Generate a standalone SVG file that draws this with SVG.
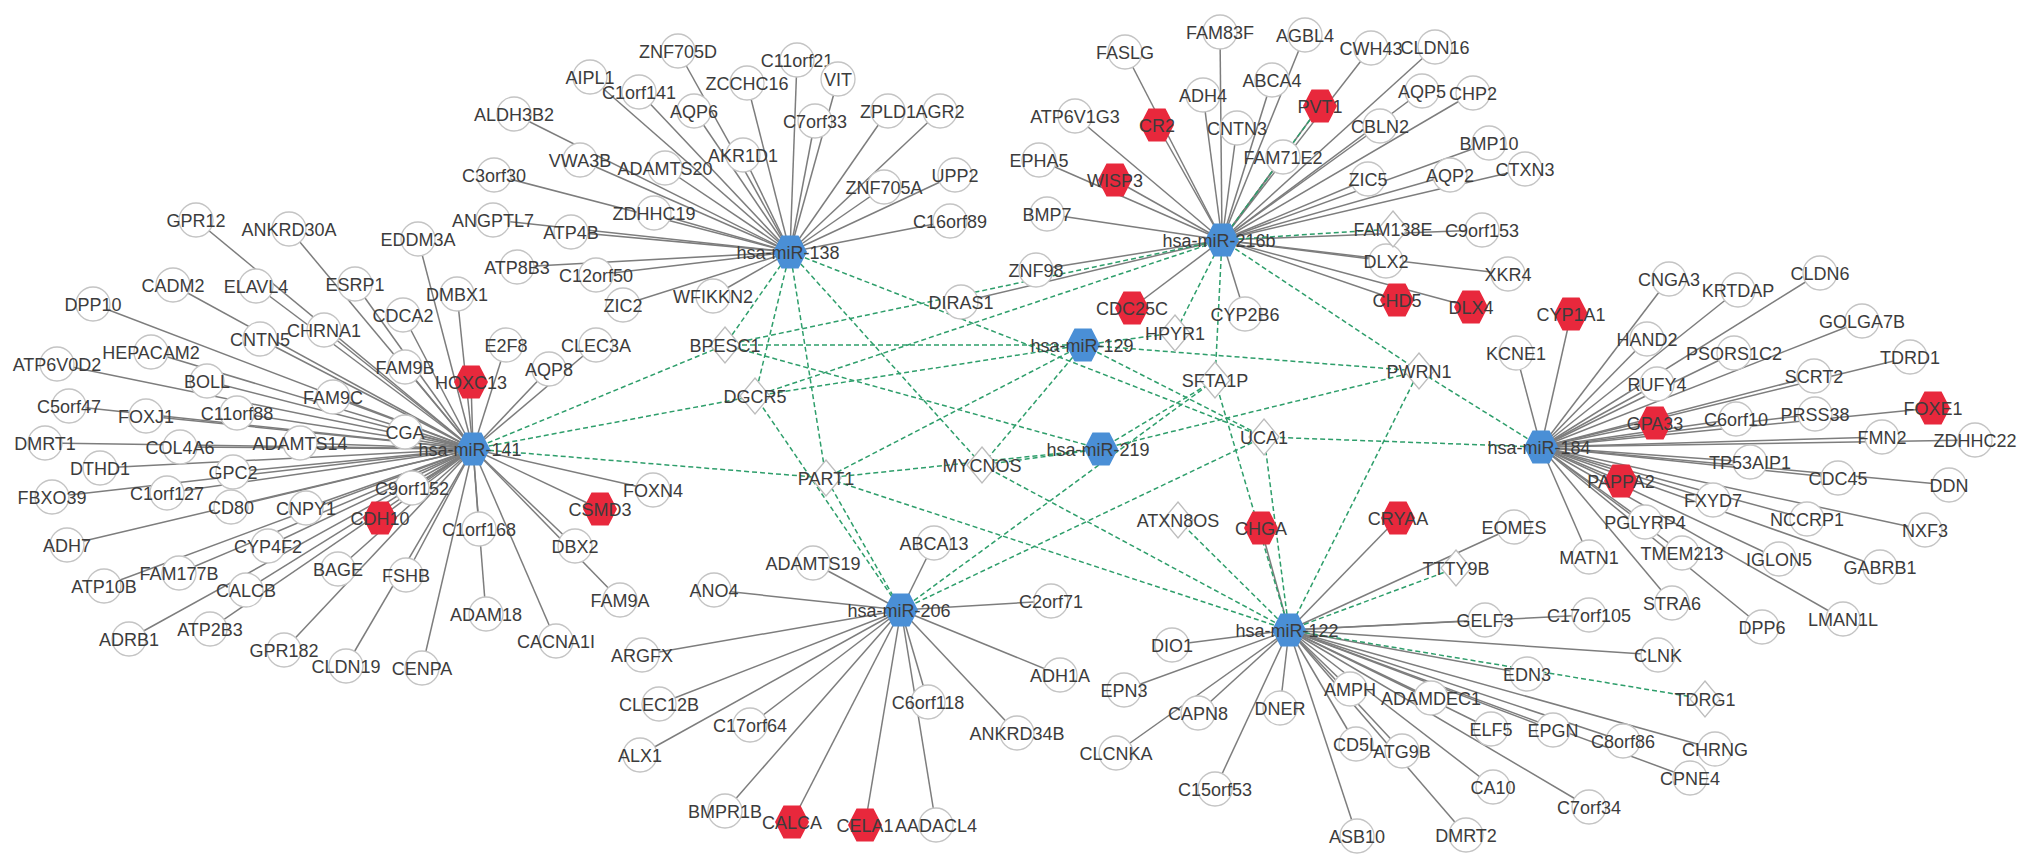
<svg xmlns="http://www.w3.org/2000/svg" xmlns:xlink="http://www.w3.org/1999/xlink" width="2031" height="868" viewBox="0 0 2031 868">
<style>
.e{stroke:#7d7d7d;stroke-width:1.5;fill:none}
.d{stroke:#2e9e6b;stroke-width:1.5;stroke-dasharray:5 3;fill:none}
.c{fill:#fff;stroke:#c4c4c4;stroke-width:1.3}
.dm{fill:#fff;stroke:#bdbdbd;stroke-width:1.3}
.r{fill:#e8283c}
.b{fill:#4a8fd6}
text{font-family:"Liberation Sans",Arial,sans-serif;font-size:18px;fill:#3c3c3c;text-anchor:middle}
</style>
<defs>
<polygon id="hx" points="-17,0 -8.5,-16.5 8.5,-16.5 17,0 8.5,16.5 -8.5,16.5"/>
<polygon id="dd" points="0,-18 15,0 0,18 -15,0"/>
</defs>
<rect width="2031" height="868" fill="#fff"/>
<g id="connectors">
<g class="e">
<path d="M790 252L514 114"/><path d="M790 252L494 175"/><path d="M790 252L493 220"/><path d="M790 252L517 267"/>
<path d="M790 252L678 51"/><path d="M790 252L590 77"/><path d="M790 252L639 92"/><path d="M790 252L747 83"/>
<path d="M790 252L797 60"/><path d="M790 252L838 79"/><path d="M790 252L694 111"/><path d="M790 252L815 121"/>
<path d="M790 252L888 111"/><path d="M790 252L940 111"/><path d="M790 252L743 155"/><path d="M790 252L580 160"/>
<path d="M790 252L665 168"/><path d="M790 252L884 187"/><path d="M790 252L955 175"/><path d="M790 252L950 221"/>
<path d="M790 252L654 213"/><path d="M790 252L571 232"/><path d="M790 252L596 275"/><path d="M790 252L713 296"/>
<path d="M790 252L623 305"/>
<path d="M473 449L196 220"/><path d="M473 449L289 229"/><path d="M473 449L418 239"/><path d="M473 449L173 285"/>
<path d="M473 449L256 286"/><path d="M473 449L355 284"/><path d="M473 449L457 294"/><path d="M473 449L93 304"/>
<path d="M473 449L403 315"/><path d="M473 449L260 339"/><path d="M473 449L324 330"/><path d="M473 449L506 345"/>
<path d="M473 449L596 345"/><path d="M473 449L549 369"/><path d="M473 449L57 364"/><path d="M473 449L151 352"/>
<path d="M473 449L405 367"/><path d="M473 449L471 382"/><path d="M473 449L207 381"/><path d="M473 449L333 397"/>
<path d="M473 449L69 406"/><path d="M473 449L146 416"/><path d="M473 449L237 413"/><path d="M473 449L405 432"/>
<path d="M473 449L45 443"/><path d="M473 449L180 447"/><path d="M473 449L300 443"/><path d="M473 449L100 468"/>
<path d="M473 449L233 472"/><path d="M473 449L412 488"/><path d="M473 449L52 497"/><path d="M473 449L167 493"/>
<path d="M473 449L231 507"/><path d="M473 449L306 508"/><path d="M473 449L380 518"/><path d="M473 449L479 529"/>
<path d="M473 449L67 545"/><path d="M473 449L268 546"/><path d="M473 449L179 573"/><path d="M473 449L338 569"/>
<path d="M473 449L406 575"/><path d="M473 449L653 490"/><path d="M473 449L600 509"/><path d="M473 449L575 546"/>
<path d="M473 449L104 586"/><path d="M473 449L246 590"/><path d="M473 449L129 639"/><path d="M473 449L210 629"/>
<path d="M473 449L284 650"/><path d="M473 449L346 666"/><path d="M473 449L422 668"/><path d="M473 449L486 614"/>
<path d="M473 449L556 641"/><path d="M473 449L620 600"/>
<path d="M1222 240L1125 52"/><path d="M1222 240L1220 32"/><path d="M1222 240L1305 35"/><path d="M1222 240L1371 48"/>
<path d="M1222 240L1435 47"/><path d="M1222 240L1203 95"/><path d="M1222 240L1272 80"/><path d="M1222 240L1320 106"/>
<path d="M1222 240L1422 91"/><path d="M1222 240L1473 93"/><path d="M1222 240L1075 116"/><path d="M1222 240L1157 125"/>
<path d="M1222 240L1237 128"/><path d="M1222 240L1380 126"/><path d="M1222 240L1283 157"/><path d="M1222 240L1489 143"/>
<path d="M1222 240L1525 169"/><path d="M1222 240L1115 180"/><path d="M1222 240L1368 179"/><path d="M1222 240L1450 175"/>
<path d="M1222 240L1482 230"/><path d="M1222 240L1386 261"/><path d="M1222 240L1508 274"/><path d="M1222 240L1039 160"/>
<path d="M1222 240L1047 214"/><path d="M1222 240L1036 270"/><path d="M1222 240L961 302"/><path d="M1222 240L1397 300"/>
<path d="M1222 240L1471 307"/><path d="M1222 240L1245 314"/><path d="M1222 240L1132 308"/>
<path d="M1541 447L1669 279"/><path d="M1541 447L1738 290"/><path d="M1541 447L1820 273"/><path d="M1541 447L1571 314"/>
<path d="M1541 447L1647 339"/><path d="M1541 447L1862 321"/><path d="M1541 447L1734 353"/><path d="M1541 447L1910 357"/>
<path d="M1541 447L1657 384"/><path d="M1541 447L1814 376"/><path d="M1541 447L1933 408"/><path d="M1541 447L1655 423"/>
<path d="M1541 447L1736 419"/><path d="M1541 447L1815 414"/><path d="M1541 447L1882 437"/><path d="M1541 447L1975 440"/>
<path d="M1541 447L1750 462"/><path d="M1541 447L1838 478"/><path d="M1541 447L1949 485"/><path d="M1541 447L1621 481"/>
<path d="M1541 447L1713 500"/><path d="M1541 447L1807 519"/><path d="M1541 447L1925 530"/><path d="M1541 447L1645 522"/>
<path d="M1541 447L1589 557"/><path d="M1541 447L1682 553"/><path d="M1541 447L1779 559"/><path d="M1541 447L1880 567"/>
<path d="M1541 447L1516 353"/><path d="M1541 447L1672 603"/><path d="M1541 447L1762 627"/><path d="M1541 447L1843 619"/>
<path d="M901 610L714 590"/><path d="M901 610L813 563"/><path d="M901 610L934 543"/><path d="M901 610L1051 601"/>
<path d="M901 610L1060 675"/><path d="M901 610L1017 733"/><path d="M901 610L928 702"/><path d="M901 610L936 825"/>
<path d="M901 610L865 825"/><path d="M901 610L792 822"/><path d="M901 610L725 811"/><path d="M901 610L750 725"/>
<path d="M901 610L640 755"/><path d="M901 610L659 704"/><path d="M901 610L642 655"/>
<path d="M1289 630L1398 518"/><path d="M1289 630L1261 528"/><path d="M1289 630L1514 527"/><path d="M1289 630L1485 620"/>
<path d="M1289 630L1589 615"/><path d="M1289 630L1658 655"/><path d="M1289 630L1527 674"/><path d="M1289 630L1715 749"/>
<path d="M1289 630L1623 741"/><path d="M1289 630L1690 778"/><path d="M1289 630L1553 730"/><path d="M1289 630L1589 807"/>
<path d="M1289 630L1491 729"/><path d="M1289 630L1493 787"/><path d="M1289 630L1431 698"/><path d="M1289 630L1350 689"/>
<path d="M1289 630L1402 751"/><path d="M1289 630L1356 744"/><path d="M1289 630L1466 835"/><path d="M1289 630L1357 836"/>
<path d="M1289 630L1215 789"/><path d="M1289 630L1280 708"/><path d="M1289 630L1198 713"/><path d="M1289 630L1116 753"/>
<path d="M1289 630L1124 690"/><path d="M1289 630L1172 645"/>
</g>
<g class="d">
<path d="M473 449L725 345"/><path d="M473 449L755 396"/><path d="M473 449L826 478"/>
<path d="M790 252L725 345"/><path d="M790 252L755 396"/><path d="M790 252L826 478"/><path d="M790 252L982 465"/><path d="M790 252L1264 437"/>
<path d="M1222 240L725 345"/><path d="M1222 240L755 396"/><path d="M1222 240L1175 333"/><path d="M1222 240L1215 380"/><path d="M1222 240L1419 371"/><path d="M1222 240L1393 229"/><path d="M1222 240L1320 106"/>
<path d="M1083 345L725 345"/><path d="M1083 345L755 396"/><path d="M1083 345L826 478"/><path d="M1083 345L1175 333"/><path d="M1083 345L1419 371"/><path d="M1083 345L1264 437"/><path d="M1083 345L982 465"/>
<path d="M1101 449L725 345"/><path d="M1101 449L982 465"/><path d="M1101 449L1215 380"/><path d="M1101 449L1419 371"/><path d="M1101 449L826 478"/>
<path d="M1541 447L1264 437"/><path d="M1541 447L1419 371"/>
<path d="M901 610L826 478"/><path d="M901 610L755 396"/><path d="M901 610L1215 380"/><path d="M901 610L1264 437"/>
<path d="M1289 630L826 478"/><path d="M1289 630L982 465"/><path d="M1289 630L1215 380"/><path d="M1289 630L1264 437"/><path d="M1289 630L1178 520"/><path d="M1289 630L1419 371"/><path d="M1289 630L1456 568"/><path d="M1289 630L1705 699"/>
</g>
</g>
<g id="nodes">
<g id="n-ALDH3B2"><circle class="c" cx="514" cy="114" r="17"/><text x="514" y="120.5">ALDH3B2</text></g>
<g id="n-C3orf30"><circle class="c" cx="494" cy="175" r="17"/><text x="494" y="181.5">C3orf30</text></g>
<g id="n-ANGPTL7"><circle class="c" cx="493" cy="220" r="17"/><text x="493" y="226.5">ANGPTL7</text></g>
<g id="n-ATP8B3"><circle class="c" cx="517" cy="267" r="17"/><text x="517" y="273.5">ATP8B3</text></g>
<g id="n-ZNF705D"><circle class="c" cx="678" cy="51" r="17"/><text x="678" y="57.5">ZNF705D</text></g>
<g id="n-AIPL1"><circle class="c" cx="590" cy="77" r="17"/><text x="590" y="83.5">AIPL1</text></g>
<g id="n-C1orf141"><circle class="c" cx="639" cy="92" r="17"/><text x="639" y="98.5">C1orf141</text></g>
<g id="n-ZCCHC16"><circle class="c" cx="747" cy="83" r="17"/><text x="747" y="89.5">ZCCHC16</text></g>
<g id="n-C11orf21"><circle class="c" cx="797" cy="60" r="17"/><text x="797" y="66.5">C11orf21</text></g>
<g id="n-VIT"><circle class="c" cx="838" cy="79" r="17"/><text x="838" y="85.5">VIT</text></g>
<g id="n-AQP6"><circle class="c" cx="694" cy="111" r="17"/><text x="694" y="117.5">AQP6</text></g>
<g id="n-C7orf33"><circle class="c" cx="815" cy="121" r="17"/><text x="815" y="127.5">C7orf33</text></g>
<g id="n-ZPLD1"><circle class="c" cx="888" cy="111" r="17"/><text x="888" y="117.5">ZPLD1</text></g>
<g id="n-AGR2"><circle class="c" cx="940" cy="111" r="17"/><text x="940" y="117.5">AGR2</text></g>
<g id="n-AKR1D1"><circle class="c" cx="743" cy="155" r="17"/><text x="743" y="161.5">AKR1D1</text></g>
<g id="n-VWA3B"><circle class="c" cx="580" cy="160" r="17"/><text x="580" y="166.5">VWA3B</text></g>
<g id="n-ADAMTS20"><circle class="c" cx="665" cy="168" r="17"/><text x="665" y="174.5">ADAMTS20</text></g>
<g id="n-ZNF705A"><circle class="c" cx="884" cy="187" r="17"/><text x="884" y="193.5">ZNF705A</text></g>
<g id="n-UPP2"><circle class="c" cx="955" cy="175" r="17"/><text x="955" y="181.5">UPP2</text></g>
<g id="n-C16orf89"><circle class="c" cx="950" cy="221" r="17"/><text x="950" y="227.5">C16orf89</text></g>
<g id="n-ZDHHC19"><circle class="c" cx="654" cy="213" r="17"/><text x="654" y="219.5">ZDHHC19</text></g>
<g id="n-ATP4B"><circle class="c" cx="571" cy="232" r="17"/><text x="571" y="238.5">ATP4B</text></g>
<g id="n-C12orf50"><circle class="c" cx="596" cy="275" r="17"/><text x="596" y="281.5">C12orf50</text></g>
<g id="n-WFIKKN2"><circle class="c" cx="713" cy="296" r="17"/><text x="713" y="302.5">WFIKKN2</text></g>
<g id="n-ZIC2"><circle class="c" cx="623" cy="305" r="17"/><text x="623" y="311.5">ZIC2</text></g>
<g id="n-GPR12"><circle class="c" cx="196" cy="220" r="17"/><text x="196" y="226.5">GPR12</text></g>
<g id="n-ANKRD30A"><circle class="c" cx="289" cy="229" r="17"/><text x="289" y="235.5">ANKRD30A</text></g>
<g id="n-EDDM3A"><circle class="c" cx="418" cy="239" r="17"/><text x="418" y="245.5">EDDM3A</text></g>
<g id="n-CADM2"><circle class="c" cx="173" cy="285" r="17"/><text x="173" y="291.5">CADM2</text></g>
<g id="n-ELAVL4"><circle class="c" cx="256" cy="286" r="17"/><text x="256" y="292.5">ELAVL4</text></g>
<g id="n-ESRP1"><circle class="c" cx="355" cy="284" r="17"/><text x="355" y="290.5">ESRP1</text></g>
<g id="n-DMBX1"><circle class="c" cx="457" cy="294" r="17"/><text x="457" y="300.5">DMBX1</text></g>
<g id="n-DPP10"><circle class="c" cx="93" cy="304" r="17"/><text x="93" y="310.5">DPP10</text></g>
<g id="n-CDCA2"><circle class="c" cx="403" cy="315" r="17"/><text x="403" y="321.5">CDCA2</text></g>
<g id="n-CNTN5"><circle class="c" cx="260" cy="339" r="17"/><text x="260" y="345.5">CNTN5</text></g>
<g id="n-CHRNA1"><circle class="c" cx="324" cy="330" r="17"/><text x="324" y="336.5">CHRNA1</text></g>
<g id="n-E2F8"><circle class="c" cx="506" cy="345" r="17"/><text x="506" y="351.5">E2F8</text></g>
<g id="n-CLEC3A"><circle class="c" cx="596" cy="345" r="17"/><text x="596" y="351.5">CLEC3A</text></g>
<g id="n-AQP8"><circle class="c" cx="549" cy="369" r="17"/><text x="549" y="375.5">AQP8</text></g>
<g id="n-ATP6V0D2"><circle class="c" cx="57" cy="364" r="17"/><text x="57" y="370.5">ATP6V0D2</text></g>
<g id="n-HEPACAM2"><circle class="c" cx="151" cy="352" r="17"/><text x="151" y="358.5">HEPACAM2</text></g>
<g id="n-FAM9B"><circle class="c" cx="405" cy="367" r="17"/><text x="405" y="373.5">FAM9B</text></g>
<g id="n-BOLL"><circle class="c" cx="207" cy="381" r="17"/><text x="207" y="387.5">BOLL</text></g>
<g id="n-FAM9C"><circle class="c" cx="333" cy="397" r="17"/><text x="333" y="403.5">FAM9C</text></g>
<g id="n-C5orf47"><circle class="c" cx="69" cy="406" r="17"/><text x="69" y="412.5">C5orf47</text></g>
<g id="n-FOXJ1"><circle class="c" cx="146" cy="416" r="17"/><text x="146" y="422.5">FOXJ1</text></g>
<g id="n-C11orf88"><circle class="c" cx="237" cy="413" r="17"/><text x="237" y="419.5">C11orf88</text></g>
<g id="n-CGA"><circle class="c" cx="405" cy="432" r="17"/><text x="405" y="438.5">CGA</text></g>
<g id="n-DMRT1"><circle class="c" cx="45" cy="443" r="17"/><text x="45" y="449.5">DMRT1</text></g>
<g id="n-COL4A6"><circle class="c" cx="180" cy="447" r="17"/><text x="180" y="453.5">COL4A6</text></g>
<g id="n-ADAMTS14"><circle class="c" cx="300" cy="443" r="17"/><text x="300" y="449.5">ADAMTS14</text></g>
<g id="n-DTHD1"><circle class="c" cx="100" cy="468" r="17"/><text x="100" y="474.5">DTHD1</text></g>
<g id="n-GPC2"><circle class="c" cx="233" cy="472" r="17"/><text x="233" y="478.5">GPC2</text></g>
<g id="n-C9orf152"><circle class="c" cx="412" cy="488" r="17"/><text x="412" y="494.5">C9orf152</text></g>
<g id="n-FBXO39"><circle class="c" cx="52" cy="497" r="17"/><text x="52" y="503.5">FBXO39</text></g>
<g id="n-C1orf127"><circle class="c" cx="167" cy="493" r="17"/><text x="167" y="499.5">C1orf127</text></g>
<g id="n-CD80"><circle class="c" cx="231" cy="507" r="17"/><text x="231" y="513.5">CD80</text></g>
<g id="n-CNPY1"><circle class="c" cx="306" cy="508" r="17"/><text x="306" y="514.5">CNPY1</text></g>
<g id="n-C1orf168"><circle class="c" cx="479" cy="529" r="17"/><text x="479" y="535.5">C1orf168</text></g>
<g id="n-ADH7"><circle class="c" cx="67" cy="545" r="17"/><text x="67" y="551.5">ADH7</text></g>
<g id="n-CYP4F2"><circle class="c" cx="268" cy="546" r="17"/><text x="268" y="552.5">CYP4F2</text></g>
<g id="n-FAM177B"><circle class="c" cx="179" cy="573" r="17"/><text x="179" y="579.5">FAM177B</text></g>
<g id="n-BAGE"><circle class="c" cx="338" cy="569" r="17"/><text x="338" y="575.5">BAGE</text></g>
<g id="n-FSHB"><circle class="c" cx="406" cy="575" r="17"/><text x="406" y="581.5">FSHB</text></g>
<g id="n-FOXN4"><circle class="c" cx="653" cy="490" r="17"/><text x="653" y="496.5">FOXN4</text></g>
<g id="n-DBX2"><circle class="c" cx="575" cy="546" r="17"/><text x="575" y="552.5">DBX2</text></g>
<g id="n-ATP10B"><circle class="c" cx="104" cy="586" r="17"/><text x="104" y="592.5">ATP10B</text></g>
<g id="n-CALCB"><circle class="c" cx="246" cy="590" r="17"/><text x="246" y="596.5">CALCB</text></g>
<g id="n-ADRB1"><circle class="c" cx="129" cy="639" r="17"/><text x="129" y="645.5">ADRB1</text></g>
<g id="n-ATP2B3"><circle class="c" cx="210" cy="629" r="17"/><text x="210" y="635.5">ATP2B3</text></g>
<g id="n-GPR182"><circle class="c" cx="284" cy="650" r="17"/><text x="284" y="656.5">GPR182</text></g>
<g id="n-CLDN19"><circle class="c" cx="346" cy="666" r="17"/><text x="346" y="672.5">CLDN19</text></g>
<g id="n-CENPA"><circle class="c" cx="422" cy="668" r="17"/><text x="422" y="674.5">CENPA</text></g>
<g id="n-ADAM18"><circle class="c" cx="486" cy="614" r="17"/><text x="486" y="620.5">ADAM18</text></g>
<g id="n-CACNA1I"><circle class="c" cx="556" cy="641" r="17"/><text x="556" y="647.5">CACNA1I</text></g>
<g id="n-FAM9A"><circle class="c" cx="620" cy="600" r="17"/><text x="620" y="606.5">FAM9A</text></g>
<g id="n-FASLG"><circle class="c" cx="1125" cy="52" r="17"/><text x="1125" y="58.5">FASLG</text></g>
<g id="n-FAM83F"><circle class="c" cx="1220" cy="32" r="17"/><text x="1220" y="38.5">FAM83F</text></g>
<g id="n-AGBL4"><circle class="c" cx="1305" cy="35" r="17"/><text x="1305" y="41.5">AGBL4</text></g>
<g id="n-CWH43"><circle class="c" cx="1371" cy="48" r="17"/><text x="1371" y="54.5">CWH43</text></g>
<g id="n-CLDN16"><circle class="c" cx="1435" cy="47" r="17"/><text x="1435" y="53.5">CLDN16</text></g>
<g id="n-ADH4"><circle class="c" cx="1203" cy="95" r="17"/><text x="1203" y="101.5">ADH4</text></g>
<g id="n-ABCA4"><circle class="c" cx="1272" cy="80" r="17"/><text x="1272" y="86.5">ABCA4</text></g>
<g id="n-AQP5"><circle class="c" cx="1422" cy="91" r="17"/><text x="1422" y="97.5">AQP5</text></g>
<g id="n-CHP2"><circle class="c" cx="1473" cy="93" r="17"/><text x="1473" y="99.5">CHP2</text></g>
<g id="n-ATP6V1G3"><circle class="c" cx="1075" cy="116" r="17"/><text x="1075" y="122.5">ATP6V1G3</text></g>
<g id="n-CNTN3"><circle class="c" cx="1237" cy="128" r="17"/><text x="1237" y="134.5">CNTN3</text></g>
<g id="n-CBLN2"><circle class="c" cx="1380" cy="126" r="17"/><text x="1380" y="132.5">CBLN2</text></g>
<g id="n-FAM71E2"><circle class="c" cx="1283" cy="157" r="17"/><text x="1283" y="163.5">FAM71E2</text></g>
<g id="n-BMP10"><circle class="c" cx="1489" cy="143" r="17"/><text x="1489" y="149.5">BMP10</text></g>
<g id="n-CTXN3"><circle class="c" cx="1525" cy="169" r="17"/><text x="1525" y="175.5">CTXN3</text></g>
<g id="n-ZIC5"><circle class="c" cx="1368" cy="179" r="17"/><text x="1368" y="185.5">ZIC5</text></g>
<g id="n-AQP2"><circle class="c" cx="1450" cy="175" r="17"/><text x="1450" y="181.5">AQP2</text></g>
<g id="n-C9orf153"><circle class="c" cx="1482" cy="230" r="17"/><text x="1482" y="236.5">C9orf153</text></g>
<g id="n-DLX2"><circle class="c" cx="1386" cy="261" r="17"/><text x="1386" y="267.5">DLX2</text></g>
<g id="n-XKR4"><circle class="c" cx="1508" cy="274" r="17"/><text x="1508" y="280.5">XKR4</text></g>
<g id="n-EPHA5"><circle class="c" cx="1039" cy="160" r="17"/><text x="1039" y="166.5">EPHA5</text></g>
<g id="n-BMP7"><circle class="c" cx="1047" cy="214" r="17"/><text x="1047" y="220.5">BMP7</text></g>
<g id="n-ZNF98"><circle class="c" cx="1036" cy="270" r="17"/><text x="1036" y="276.5">ZNF98</text></g>
<g id="n-DIRAS1"><circle class="c" cx="961" cy="302" r="17"/><text x="961" y="308.5">DIRAS1</text></g>
<g id="n-CYP2B6"><circle class="c" cx="1245" cy="314" r="17"/><text x="1245" y="320.5">CYP2B6</text></g>
<g id="n-CNGA3"><circle class="c" cx="1669" cy="279" r="17"/><text x="1669" y="285.5">CNGA3</text></g>
<g id="n-KRTDAP"><circle class="c" cx="1738" cy="290" r="17"/><text x="1738" y="296.5">KRTDAP</text></g>
<g id="n-CLDN6"><circle class="c" cx="1820" cy="273" r="17"/><text x="1820" y="279.5">CLDN6</text></g>
<g id="n-HAND2"><circle class="c" cx="1647" cy="339" r="17"/><text x="1647" y="345.5">HAND2</text></g>
<g id="n-GOLGA7B"><circle class="c" cx="1862" cy="321" r="17"/><text x="1862" y="327.5">GOLGA7B</text></g>
<g id="n-PSORS1C2"><circle class="c" cx="1734" cy="353" r="17"/><text x="1734" y="359.5">PSORS1C2</text></g>
<g id="n-TDRD1"><circle class="c" cx="1910" cy="357" r="17"/><text x="1910" y="363.5">TDRD1</text></g>
<g id="n-RUFY4"><circle class="c" cx="1657" cy="384" r="17"/><text x="1657" y="390.5">RUFY4</text></g>
<g id="n-SCRT2"><circle class="c" cx="1814" cy="376" r="17"/><text x="1814" y="382.5">SCRT2</text></g>
<g id="n-C6orf10"><circle class="c" cx="1736" cy="419" r="17"/><text x="1736" y="425.5">C6orf10</text></g>
<g id="n-PRSS38"><circle class="c" cx="1815" cy="414" r="17"/><text x="1815" y="420.5">PRSS38</text></g>
<g id="n-FMN2"><circle class="c" cx="1882" cy="437" r="17"/><text x="1882" y="443.5">FMN2</text></g>
<g id="n-ZDHHC22"><circle class="c" cx="1975" cy="440" r="17"/><text x="1975" y="446.5">ZDHHC22</text></g>
<g id="n-TP53AIP1"><circle class="c" cx="1750" cy="462" r="17"/><text x="1750" y="468.5">TP53AIP1</text></g>
<g id="n-CDC45"><circle class="c" cx="1838" cy="478" r="17"/><text x="1838" y="484.5">CDC45</text></g>
<g id="n-DDN"><circle class="c" cx="1949" cy="485" r="17"/><text x="1949" y="491.5">DDN</text></g>
<g id="n-FXYD7"><circle class="c" cx="1713" cy="500" r="17"/><text x="1713" y="506.5">FXYD7</text></g>
<g id="n-NCCRP1"><circle class="c" cx="1807" cy="519" r="17"/><text x="1807" y="525.5">NCCRP1</text></g>
<g id="n-NXF3"><circle class="c" cx="1925" cy="530" r="17"/><text x="1925" y="536.5">NXF3</text></g>
<g id="n-PGLYRP4"><circle class="c" cx="1645" cy="522" r="17"/><text x="1645" y="528.5">PGLYRP4</text></g>
<g id="n-MATN1"><circle class="c" cx="1589" cy="557" r="17"/><text x="1589" y="563.5">MATN1</text></g>
<g id="n-TMEM213"><circle class="c" cx="1682" cy="553" r="17"/><text x="1682" y="559.5">TMEM213</text></g>
<g id="n-IGLON5"><circle class="c" cx="1779" cy="559" r="17"/><text x="1779" y="565.5">IGLON5</text></g>
<g id="n-GABRB1"><circle class="c" cx="1880" cy="567" r="17"/><text x="1880" y="573.5">GABRB1</text></g>
<g id="n-KCNE1"><circle class="c" cx="1516" cy="353" r="17"/><text x="1516" y="359.5">KCNE1</text></g>
<g id="n-STRA6"><circle class="c" cx="1672" cy="603" r="17"/><text x="1672" y="609.5">STRA6</text></g>
<g id="n-DPP6"><circle class="c" cx="1762" cy="627" r="17"/><text x="1762" y="633.5">DPP6</text></g>
<g id="n-LMAN1L"><circle class="c" cx="1843" cy="619" r="17"/><text x="1843" y="625.5">LMAN1L</text></g>
<g id="n-ANO4"><circle class="c" cx="714" cy="590" r="17"/><text x="714" y="596.5">ANO4</text></g>
<g id="n-ADAMTS19"><circle class="c" cx="813" cy="563" r="17"/><text x="813" y="569.5">ADAMTS19</text></g>
<g id="n-ABCA13"><circle class="c" cx="934" cy="543" r="17"/><text x="934" y="549.5">ABCA13</text></g>
<g id="n-C2orf71"><circle class="c" cx="1051" cy="601" r="17"/><text x="1051" y="607.5">C2orf71</text></g>
<g id="n-ADH1A"><circle class="c" cx="1060" cy="675" r="17"/><text x="1060" y="681.5">ADH1A</text></g>
<g id="n-ANKRD34B"><circle class="c" cx="1017" cy="733" r="17"/><text x="1017" y="739.5">ANKRD34B</text></g>
<g id="n-C6orf118"><circle class="c" cx="928" cy="702" r="17"/><text x="928" y="708.5">C6orf118</text></g>
<g id="n-AADACL4"><circle class="c" cx="936" cy="825" r="17"/><text x="936" y="831.5">AADACL4</text></g>
<g id="n-BMPR1B"><circle class="c" cx="725" cy="811" r="17"/><text x="725" y="817.5">BMPR1B</text></g>
<g id="n-C17orf64"><circle class="c" cx="750" cy="725" r="17"/><text x="750" y="731.5">C17orf64</text></g>
<g id="n-ALX1"><circle class="c" cx="640" cy="755" r="17"/><text x="640" y="761.5">ALX1</text></g>
<g id="n-CLEC12B"><circle class="c" cx="659" cy="704" r="17"/><text x="659" y="710.5">CLEC12B</text></g>
<g id="n-ARGFX"><circle class="c" cx="642" cy="655" r="17"/><text x="642" y="661.5">ARGFX</text></g>
<g id="n-EOMES"><circle class="c" cx="1514" cy="527" r="17"/><text x="1514" y="533.5">EOMES</text></g>
<g id="n-GELF3"><circle class="c" cx="1485" cy="620" r="17"/><text x="1485" y="626.5">GELF3</text></g>
<g id="n-C17orf105"><circle class="c" cx="1589" cy="615" r="17"/><text x="1589" y="621.5">C17orf105</text></g>
<g id="n-CLNK"><circle class="c" cx="1658" cy="655" r="17"/><text x="1658" y="661.5">CLNK</text></g>
<g id="n-EDN3"><circle class="c" cx="1527" cy="674" r="17"/><text x="1527" y="680.5">EDN3</text></g>
<g id="n-CHRNG"><circle class="c" cx="1715" cy="749" r="17"/><text x="1715" y="755.5">CHRNG</text></g>
<g id="n-C8orf86"><circle class="c" cx="1623" cy="741" r="17"/><text x="1623" y="747.5">C8orf86</text></g>
<g id="n-CPNE4"><circle class="c" cx="1690" cy="778" r="17"/><text x="1690" y="784.5">CPNE4</text></g>
<g id="n-EPGN"><circle class="c" cx="1553" cy="730" r="17"/><text x="1553" y="736.5">EPGN</text></g>
<g id="n-C7orf34"><circle class="c" cx="1589" cy="807" r="17"/><text x="1589" y="813.5">C7orf34</text></g>
<g id="n-ELF5"><circle class="c" cx="1491" cy="729" r="17"/><text x="1491" y="735.5">ELF5</text></g>
<g id="n-CA10"><circle class="c" cx="1493" cy="787" r="17"/><text x="1493" y="793.5">CA10</text></g>
<g id="n-ADAMDEC1"><circle class="c" cx="1431" cy="698" r="17"/><text x="1431" y="704.5">ADAMDEC1</text></g>
<g id="n-AMPH"><circle class="c" cx="1350" cy="689" r="17"/><text x="1350" y="695.5">AMPH</text></g>
<g id="n-ATG9B"><circle class="c" cx="1402" cy="751" r="17"/><text x="1402" y="757.5">ATG9B</text></g>
<g id="n-CD5L"><circle class="c" cx="1356" cy="744" r="17"/><text x="1356" y="750.5">CD5L</text></g>
<g id="n-DMRT2"><circle class="c" cx="1466" cy="835" r="17"/><text x="1466" y="841.5">DMRT2</text></g>
<g id="n-ASB10"><circle class="c" cx="1357" cy="836" r="17"/><text x="1357" y="842.5">ASB10</text></g>
<g id="n-C15orf53"><circle class="c" cx="1215" cy="789" r="17"/><text x="1215" y="795.5">C15orf53</text></g>
<g id="n-DNER"><circle class="c" cx="1280" cy="708" r="17"/><text x="1280" y="714.5">DNER</text></g>
<g id="n-CAPN8"><circle class="c" cx="1198" cy="713" r="17"/><text x="1198" y="719.5">CAPN8</text></g>
<g id="n-CLCNKA"><circle class="c" cx="1116" cy="753" r="17"/><text x="1116" y="759.5">CLCNKA</text></g>
<g id="n-EPN3"><circle class="c" cx="1124" cy="690" r="17"/><text x="1124" y="696.5">EPN3</text></g>
<g id="n-DIO1"><circle class="c" cx="1172" cy="645" r="17"/><text x="1172" y="651.5">DIO1</text></g>
<g id="n-BPESC1"><use href="#dd" class="dm" x="725" y="345"/><text x="725" y="351.5">BPESC1</text></g>
<g id="n-DGCR5"><use href="#dd" class="dm" x="755" y="396"/><text x="755" y="402.5">DGCR5</text></g>
<g id="n-PART1"><use href="#dd" class="dm" x="826" y="478"/><text x="826" y="484.5">PART1</text></g>
<g id="n-MYCNOS"><use href="#dd" class="dm" x="982" y="465"/><text x="982" y="471.5">MYCNOS</text></g>
<g id="n-HPYR1"><use href="#dd" class="dm" x="1175" y="333"/><text x="1175" y="339.5">HPYR1</text></g>
<g id="n-SFTA1P"><use href="#dd" class="dm" x="1215" y="380"/><text x="1215" y="386.5">SFTA1P</text></g>
<g id="n-UCA1"><use href="#dd" class="dm" x="1264" y="437"/><text x="1264" y="443.5">UCA1</text></g>
<g id="n-PWRN1"><use href="#dd" class="dm" x="1419" y="371"/><text x="1419" y="377.5">PWRN1</text></g>
<g id="n-ATXN8OS"><use href="#dd" class="dm" x="1178" y="520"/><text x="1178" y="526.5">ATXN8OS</text></g>
<g id="n-TTTY9B"><use href="#dd" class="dm" x="1456" y="568"/><text x="1456" y="574.5">TTTY9B</text></g>
<g id="n-TDRG1"><use href="#dd" class="dm" x="1705" y="699"/><text x="1705" y="705.5">TDRG1</text></g>
<g id="n-FAM138E"><use href="#dd" class="dm" x="1393" y="229"/><text x="1393" y="235.5">FAM138E</text></g>
<g id="n-HOXC13"><use href="#hx" class="r" x="471" y="382"/><text x="471" y="388.5">HOXC13</text></g>
<g id="n-CDH10"><use href="#hx" class="r" x="380" y="518"/><text x="380" y="524.5">CDH10</text></g>
<g id="n-CSMD3"><use href="#hx" class="r" x="600" y="509"/><text x="600" y="515.5">CSMD3</text></g>
<g id="n-PVT1"><use href="#hx" class="r" x="1320" y="106"/><text x="1320" y="112.5">PVT1</text></g>
<g id="n-CR2"><use href="#hx" class="r" x="1157" y="125"/><text x="1157" y="131.5">CR2</text></g>
<g id="n-WISP3"><use href="#hx" class="r" x="1115" y="180"/><text x="1115" y="186.5">WISP3</text></g>
<g id="n-CHD5"><use href="#hx" class="r" x="1397" y="300"/><text x="1397" y="306.5">CHD5</text></g>
<g id="n-DLX4"><use href="#hx" class="r" x="1471" y="307"/><text x="1471" y="313.5">DLX4</text></g>
<g id="n-CDC25C"><use href="#hx" class="r" x="1132" y="308"/><text x="1132" y="314.5">CDC25C</text></g>
<g id="n-CYP1A1"><use href="#hx" class="r" x="1571" y="314"/><text x="1571" y="320.5">CYP1A1</text></g>
<g id="n-FOXE1"><use href="#hx" class="r" x="1933" y="408"/><text x="1933" y="414.5">FOXE1</text></g>
<g id="n-GPA33"><use href="#hx" class="r" x="1655" y="423"/><text x="1655" y="429.5">GPA33</text></g>
<g id="n-PAPPA2"><use href="#hx" class="r" x="1621" y="481"/><text x="1621" y="487.5">PAPPA2</text></g>
<g id="n-CALCA"><use href="#hx" class="r" x="792" y="822"/><text x="792" y="828.5">CALCA</text></g>
<g id="n-CELA1"><use href="#hx" class="r" x="865" y="825"/><text x="865" y="831.5">CELA1</text></g>
<g id="n-CRYAA"><use href="#hx" class="r" x="1398" y="518"/><text x="1398" y="524.5">CRYAA</text></g>
<g id="n-CHGA"><use href="#hx" class="r" x="1261" y="528"/><text x="1261" y="534.5">CHGA</text></g>
<g id="n-hsa-miR-138"><use href="#hx" class="b" x="790" y="252"/><text x="788" y="258.5">hsa-miR-138</text></g>
<g id="n-hsa-miR-216b"><use href="#hx" class="b" x="1222" y="240"/><text x="1219" y="246.5">hsa-miR-216b</text></g>
<g id="n-hsa-miR-141"><use href="#hx" class="b" x="473" y="449"/><text x="470" y="455.5">hsa-miR-141</text></g>
<g id="n-hsa-miR-129"><use href="#hx" class="b" x="1083" y="345"/><text x="1082" y="351.5">hsa-miR-129</text></g>
<g id="n-hsa-miR-219"><use href="#hx" class="b" x="1101" y="449"/><text x="1098" y="455.5">hsa-miR-219</text></g>
<g id="n-hsa-miR-184"><use href="#hx" class="b" x="1541" y="447"/><text x="1539" y="453.5">hsa-miR-184</text></g>
<g id="n-hsa-miR-206"><use href="#hx" class="b" x="901" y="610"/><text x="899" y="616.5">hsa-miR-206</text></g>
<g id="n-hsa-miR-122"><use href="#hx" class="b" x="1289" y="630"/><text x="1287" y="636.5">hsa-miR-122</text></g>
</g>
</svg>
